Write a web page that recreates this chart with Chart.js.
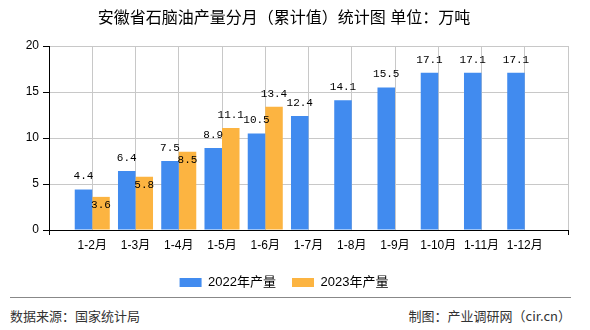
<!DOCTYPE html>
<html>
<head>
<meta charset="utf-8">
<script src="https://cdn.jsdelivr.net/npm/chart.js@4"></script>
<style>
  body { margin: 0; background: #fff; }
  #wrap { position: relative; width: 590px; height: 330px; font-family: "Liberation Sans", "Noto Sans CJK SC", sans-serif; }
  #box-grafico { position: absolute; left: 0; top: 0; width: 590px; height: 299px; }
  #linha { position: absolute; left: 10px; top: 297px; width: 561px; border-top: 1px solid #888; }
  .rodape { position: absolute; top: 306px; font-size: 13px; color: #333; font-family: "Noto Sans CJK SC", sans-serif; }
  #fonte { left: 10px; }
  #autor { right: 19px; }
</style>
</head>
<body>
<div id="wrap">
  <div id="box-grafico"><canvas id="grafico"></canvas></div>
  <div id="linha"></div>
  <div class="rodape" id="fonte">数据来源：国家统计局</div>
  <div class="rodape" id="autor">制图：产业调研网（cir.cn）</div>
</div>
<script>
const MESES = ['1-2月', '1-3月', '1-4月', '1-5月', '1-6月', '1-7月', '1-8月', '1-9月', '1-10月', '1-11月', '1-12月'];
const PRODUCAO_2022 = [4.4, 6.4, 7.5, 8.9, 10.5, 12.4, 14.1, 15.5, 17.1, 17.1, 17.1];
const PRODUCAO_2023 = [3.6, 5.8, 8.5, 11.1, 13.4];
const TICKS_Y = [0, 5, 10, 15, 20];
const NOMES_SERIES = ['2022年产量', '2023年产量'];
const CORES = ['#418bef', '#fcb441'];

const FONTE_CJK = '"Liberation Sans", "Noto Sans CJK SC", sans-serif';
const COR_GRADE = '#c8c8c8';

// rótulos vazios nas pontas para deixar uma faixa livre em cada lado
const rotulos = ['', ...MESES, ''];
const comPontas = (serie) => [null, ...MESES.map((_, i) => (serie[i] === undefined ? null : serie[i])), null];
// só as pontas do eixo x têm marca
const coresMarcaX = rotulos.map((_, i) => (i === 0 || i === rotulos.length - 1 ? '#000000' : 'rgba(0,0,0,0)'));

const rotulosValores = {
  id: 'rotulosValores',
  afterDatasetsDraw(chart) {
    const { ctx } = chart;
    ctx.save();
    ctx.font = '11px "Liberation Mono", "DejaVu Sans Mono", monospace';
    ctx.fillStyle = '#000';
    ctx.textAlign = 'center';
    ctx.textBaseline = 'middle';
    const caixasAnteriores = [];
    chart.data.datasets.forEach((ds, di) => {
      const meta = chart.getDatasetMeta(di);
      meta.data.forEach((barra, i) => {
        const v = ds.data[i];
        if (v === null || v === undefined) return;
        const texto = String(v);
        const largura = ctx.measureText(texto).width;
        let y = barra.y - 13;
        const sobrepoe = caixasAnteriores.some((c) =>
          c.i === i && Math.abs(c.x - barra.x) < (c.w + largura) / 2 && Math.abs(c.y - y) < 12);
        if (sobrepoe) y = barra.y + 8;
        caixasAnteriores.push({ i, x: barra.x, y, w: largura });
        ctx.fillText(texto, barra.x, y);
      });
    });
    ctx.restore();
  },
};

new Chart(document.getElementById('grafico'), {
  type: 'bar',
  data: {
    labels: rotulos,
    datasets: [
      { label: NOMES_SERIES[0], data: comPontas(PRODUCAO_2022), backgroundColor: CORES[0] },
      { label: NOMES_SERIES[1], data: comPontas(PRODUCAO_2023), backgroundColor: CORES[1] },
    ],
  },
  options: {
    responsive: true,
    maintainAspectRatio: false,
    animation: false,
    categoryPercentage: 0.81,
    barPercentage: 1,
    layout: { padding: { left: 0, right: 22, top: 0, bottom: 0 } },
    plugins: {
      title: {
        display: true,
        text: '安徽省石脑油产量分月（累计值）统计图 单位：万吨',
        color: '#000',
        font: { size: 16, family: FONTE_CJK, weight: 'normal' },
        padding: { top: 9, bottom: 17.8 },
      },
      legend: {
        position: 'bottom',
        labels: {
          boxWidth: 22,
          boxHeight: 9,
          padding: 16,
          color: '#000',
          font: { size: 13, family: FONTE_CJK },
        },
      },
      tooltip: { enabled: false },
    },
    scales: {
      x: {
        offset: false,
        grid: {
          display: true,
          drawOnChartArea: true,
          offset: false,
          color: COR_GRADE,
          lineWidth: 1,
          tickLength: 5,
          tickColor: coresMarcaX,
        },
        border: { color: '#000', width: 1 },
        ticks: {
          color: '#000',
          padding: 3,
          maxRotation: 0,
          autoSkip: false,
          font: { size: 12, family: FONTE_CJK },
        },
        afterFit: (scale) => { scale.height = 30; },
      },
      y: {
        min: TICKS_Y[0],
        max: TICKS_Y[TICKS_Y.length - 1],
        afterBuildTicks: (scale) => { scale.ticks = TICKS_Y.map((v) => ({ value: v })); },
        grid: { color: COR_GRADE, tickLength: 6, tickColor: '#000' },
        border: { color: '#000', width: 1 },
        ticks: {
          color: '#000',
          padding: 4,
          font: { size: 12, family: FONTE_CJK },
        },
        afterFit: (scale) => { scale.width = 49; },
      },
    },
  },
  plugins: [rotulosValores],
});
</script>
</body>
</html>
